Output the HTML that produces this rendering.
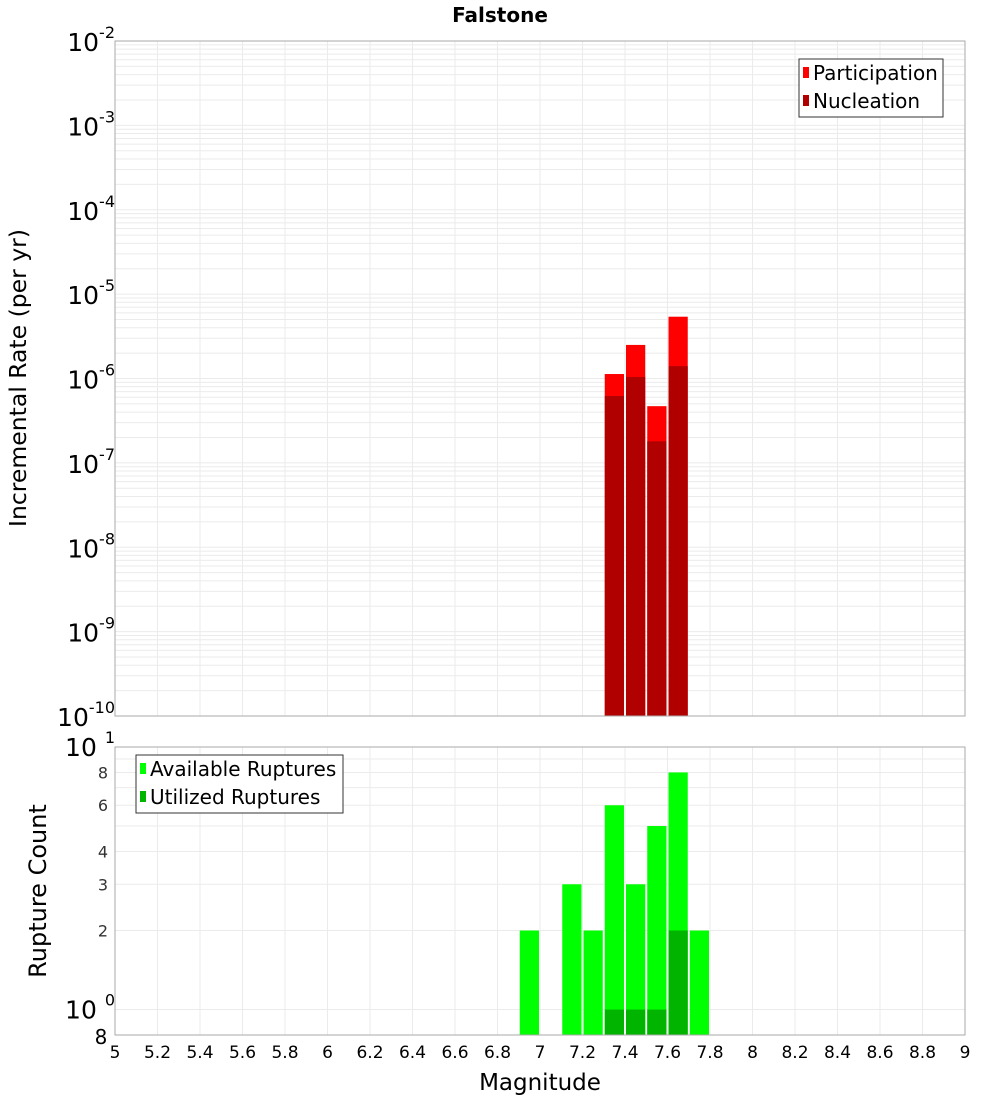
<!DOCTYPE html>
<html><head><meta charset="utf-8"><style>
body{margin:0;background:#fff;}
svg{display:block;font-family:"DejaVu Sans","Liberation Sans",sans-serif;}
</style></head><body>
<svg id="c" width="1000" height="1100" xmlns="http://www.w3.org/2000/svg"></svg>
<script>
const magBins=[7.35,7.45,7.55,7.65];
const participation=[1.13e-6,2.5e-6,4.7e-7,5.4e-6];
const nucleation=[6.2e-7,1.04e-6,1.8e-7,1.4e-6];
const countBins=[6.95,7.15,7.25,7.35,7.45,7.55,7.65,7.75];
const available=[2,3,2,6,3,5,8,2];
const utilBins=[7.35,7.45,7.55,7.65];
const utilized=[1,1,1,2];
const xTicks=[5,5.2,5.4,5.6,5.8,6,6.2,6.4,6.6,6.8,7,7.2,7.4,7.6,7.8,8,8.2,8.4,8.6,8.8,9];
const topExps=[-10,-9,-8,-7,-6,-5,-4,-3,-2];
const botTicks=[2,3,4,6,8];

const NS="http://www.w3.org/2000/svg";
const svg=document.getElementById('c');
function el(t,a,p){const e=document.createElementNS(NS,t);for(const k in a)e.setAttribute(k,a[k]);(p||svg).appendChild(e);return e;}
const L=115,R=965,T1=41,B1=716,T2=747,B2=1035;
const X=v=>L+(v-5)/4*(R-L);
const Y1=v=>B1-(Math.log10(v)+10)/8*(B1-T1);
const Y2=v=>B2-Math.log10(v/0.8)/Math.log10(10/0.8)*(B2-T2);
const bw=(R-L)/40;

const g=el('g',{});


for(let e=-10;e<-2;e++)for(let m=1;m<10;m++){const y=Y1(m*Math.pow(10,e));el('line',{x1:L,x2:R,y1:y,y2:y,stroke:'#ebebeb','stroke-width':1},g);}
[1,2,3,4,5,6,7,8,9,10].forEach(v=>{const y=Y2(v);el('line',{x1:L,x2:R,y1:y,y2:y,stroke:'#ebebeb','stroke-width':1},g);});
xTicks.forEach(v=>{[[T1,B1],[T2,B2]].forEach(([a,b])=>el('line',{x1:X(v),x2:X(v),y1:a,y2:b,stroke:'#ebebeb','stroke-width':1},g));});

magBins.forEach((m,i)=>{
 const x=X(m-0.05)+1,w=bw-2;
 let r=el('rect',{x:x,y:Y1(participation[i]),width:w,height:B1-Y1(participation[i]),fill:'#ff0000'});
 
 
 r=el('rect',{x:x,y:Y1(nucleation[i]),width:w,height:B1-Y1(nucleation[i]),fill:'#b00000'});
 
 
});
countBins.forEach((m,i)=>{
 const r=el('rect',{x:X(m-0.05)+1,y:Y2(available[i]),width:bw-2,height:B2-Y2(available[i]),fill:'#00ff00'});
 
 
});
utilBins.forEach((m,i)=>{
 const r=el('rect',{x:X(m-0.05)+1,y:Y2(utilized[i]),width:bw-2,height:B2-Y2(utilized[i]),fill:'#00b400'});
 
 
});
el('rect',{x:L,y:T1,width:R-L,height:B1-T1,fill:'none',stroke:'#aaa'});
el('rect',{x:L,y:T2,width:R-L,height:B2-T2,fill:'none',stroke:'#aaa'});

function txt(x,y,s,sz,anchor,extra){const t=el('text',Object.assign({x:x,y:y,'font-size':sz,'text-anchor':anchor||'middle',fill:'#000'},extra||{}));t.textContent=s;return t;}
xTicks.forEach(v=>{const t=txt(X(v),1058,String(v),17);});
topExps.forEach(e=>{const y=Y1(Math.pow(10,e));const t=el('text',{x:115,y:y+10,'font-size':25,'text-anchor':'end',fill:'#000'});
 
 t.textContent='10';const s=el('tspan',{dy:-13,'font-size':16},t);s.textContent=String(e);});
botTicks.forEach(v=>{const t=txt(108,Y2(v)+6,String(v),16,'end',{fill:'#333'});});
[[10,'1',T2+9],[1,'0',Y2(1)+9]].forEach(([v,e,y])=>{const t=el('text',{x:115,y:y,'font-size':25,'text-anchor':'end',fill:'#000'});t.textContent='10 ';const s=el('tspan',{dy:-13,'font-size':16},t);s.textContent=e;});
txt(101,B2+9,'8',20);

let t=txt(500,22,'Falstone',20,'middle',{'font-weight':'bold'});
t=txt(540,1090,'Magnitude',23);
t=txt(0,0,'Incremental Rate (per yr)',23.5,'middle',{transform:'translate(26,378) rotate(-90)'});
t=txt(0,0,'Rupture Count',24,'middle',{transform:'translate(46,891) rotate(-90)'});

function legend(x,y,w,items,name){const lg=el('g',{});
 el('rect',{x:x,y:y,width:w,height:58,fill:'#fff',stroke:'#333'},lg);
 items.forEach((it,i)=>{el('rect',{x:x+4,y:y+8+i*28,width:6,height:11,fill:it[1]},lg);
  const tt=el('text',{x:x+14,y:y+21+i*28,'font-size':20,fill:'#000'},lg);tt.textContent=it[0];});}
legend(799,59,144,[['Participation','#ff0000'],['Nucleation','#b00000']],'rate-legend');
legend(136,755,207,[['Available Ruptures','#00ff00'],['Utilized Ruptures','#00b400']],'count-legend');
</script>
</body></html>
